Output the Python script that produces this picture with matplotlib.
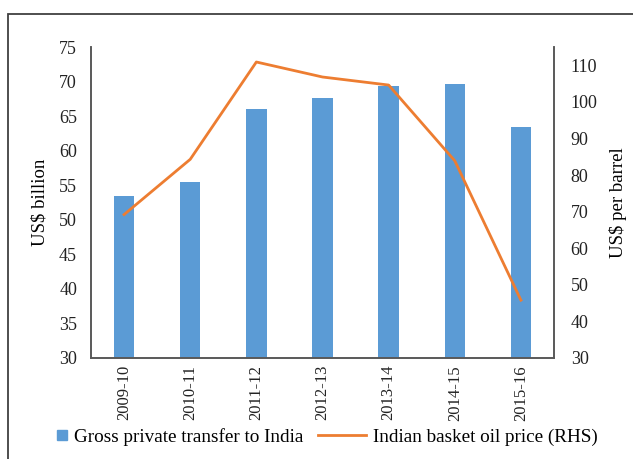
import matplotlib.pyplot as plt
import matplotlib.patches as patches
from matplotlib.lines import Line2D
import numpy as np

years = ['2009-10', '2010-11', '2011-12', '2012-13', '2013-14', '2014-15', '2015-16']
transfers = [53.4, 55.4, 66.0, 67.6, 69.4, 69.7, 63.4]
oil_price = [69.2, 84.3, 110.9, 106.8, 104.6, 83.9, 45.8]

bar_color = '#5B9BD5'
line_color = '#ED7D31'

plt.rcParams['font.family'] = ['Liberation Serif', 'DejaVu Serif']

fig = plt.figure(figsize=(6.33, 4.59), dpi=100)
ax = fig.add_axes([91/633, 1-358/459, (554-91)/633, (358-47)/459])
ax2 = ax.twinx()

x = np.arange(len(years))
ax.bar(x, transfers, width=0.31, color=bar_color)
ax2.plot(x, oil_price, color=line_color, lw=2.0)

ax.set_xlim(-0.5, len(years) - 0.5)
ax.set_ylim(30, 75)
ax.set_yticks(np.arange(30, 76, 5))
ax2.set_ylim(30, 115)
ax2.set_yticks(np.arange(30, 111, 10))
ax.set_xticks(x)
ax.set_xticklabels(years, rotation=90)

ax.tick_params(axis='y', length=0, pad=10, labelsize=13, colors='#222222')
ax.tick_params(axis='x', length=0, pad=5, labelsize=12, colors='#222222')
ax2.tick_params(axis='y', length=0, pad=12, labelsize=13, colors='#222222')

for a in (ax, ax2):
    a.spines['top'].set_visible(False)
    for s in ('left', 'right', 'bottom'):
        a.spines[s].set_color('#595959')
        a.spines[s].set_linewidth(1.2)

ax.set_ylabel('US$ billion', fontsize=13.5, labelpad=8)
ax2.set_ylabel('US$ per barrel', fontsize=13.5, labelpad=8)

# legend: small square for bars, longer line for the oil price
sq = Line2D([], [], marker='s', ls='none', markersize=7.5, color=bar_color)
ln = Line2D([], [], color=line_color, lw=2.0)
leg_y = 1 - 437/459
leg1 = fig.legend([sq], ['Gross private transfer to India'], loc='center left',
                  bbox_to_anchor=(56/633, leg_y), frameon=False, fontsize=13.8,
                  handlelength=0.6, handletextpad=0.35, borderpad=0, borderaxespad=0)
leg2 = fig.legend([ln], ['Indian basket oil price (RHS)'], loc='center left',
                  bbox_to_anchor=(318/633, leg_y), frameon=False, fontsize=13.8,
                  handlelength=2.5, handletextpad=0.35, borderpad=0, borderaxespad=0)

# outer frame of the original figure box
frame = patches.Rectangle((8/633, -0.1), 1.2, 1-14/459+0.1, transform=fig.transFigure,
                          fill=False, edgecolor='#404040', lw=1.3)
fig.patches.append(frame)

fig.savefig('out.png', dpi=100)
